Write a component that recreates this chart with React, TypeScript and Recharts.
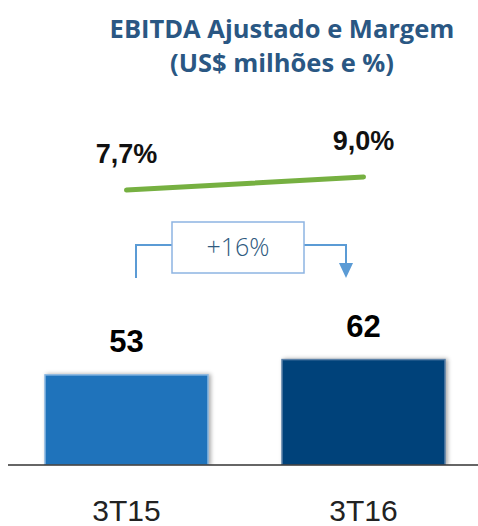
import React from "react";
import { Bar, Cell, ComposedChart, LabelList, Line, XAxis, YAxis } from "recharts";

const categories = ["3T15", "3T16"];
const ebitda = [53, 62];
const margem = [7.7, 9.0];
const growthLabel = "+16%";
const titleLines = ["EBITDA Ajustado e Margem", "(US$ milhões e %)"];

const barColors = ["#1f73bb", "#00427a"];
const barEdges = ["#8ab8e2", "#5a80a8"];

const data = categories.map((cat, i) => ({ cat, ebitda: ebitda[i], margem: margem[i] }));

const FONT = "'Liberation Sans', Arial, sans-serif";

function ShadowBar(props: any) {
    const { x, y, width, height, index } = props;
    return (
        <rect
            x={x}
            y={y}
            width={width}
            height={height}
            fill={barColors[index]}
            stroke={barEdges[index]}
            strokeWidth={1.5}
            style={{ filter: "drop-shadow(2px 0px 2px rgba(0,0,0,0.35))" }}
        />
    );
}

function GrowthArrow() {
    const blue = "#5b9bd5";
    return (
        <svg width={478} height={526} style={{ position: "absolute", left: 0, top: 0 }}>
            <polyline points="136,278 136,245 172,245" fill="none" stroke={blue} strokeWidth={2} />
            <polyline points="304,245 346,245 346,265" fill="none" stroke={blue} strokeWidth={2} />
            <polygon points="339,263 353,263 346,278" fill={blue} />
            <rect x={172} y={222} width={132} height={51} fill="#fff" stroke="#8db4e2" strokeWidth={1.5} />
            <text
                x={238}
                y={256}
                textAnchor="middle"
                fontFamily="'Open Sans', sans-serif"
                fontWeight={300}
                fontSize={25}
                fill="#2f5a80"
            >
                {growthLabel}
            </text>
        </svg>
    );
}

export default function App() {
    return (
        <div style={{ position: "absolute", left: 0, top: 0, width: 478, height: 526, overflow: "hidden", background: "#fff" }}>
            <div
                style={{
                    position: "absolute",
                    left: 82,
                    top: 11,
                    width: 400,
                    textAlign: "center",
                    fontFamily: "'Open Sans', sans-serif",
                    fontWeight: 700,
                    fontSize: 25.5,
                    lineHeight: "34px",
                    color: "#2a5783",
                }}
            >
                {titleLines.map((t) => (
                    <div key={t}>{t}</div>
                ))}
            </div>
            <div style={{ position: "absolute", left: 0, top: 0 }}>
                <ComposedChart width={482} height={526} data={data} margin={{ top: 45, right: 0, bottom: 0, left: 8 }}>
                    <XAxis
                        dataKey="cat"
                        height={61}
                        tickLine={false}
                        tickSize={0}
                        tickMargin={35}
                        axisLine={{ stroke: "#333", strokeWidth: 1.5 }}
                        tick={{ fill: "#222", fontSize: 30, fontFamily: FONT }}
                    />
                    <YAxis yAxisId="bar" hide domain={[0, 247]} allowDataOverflow />
                    <YAxis yAxisId="line" hide domain={[-19.8, 22.2]} allowDataOverflow />
                    <Bar yAxisId="bar" dataKey="ebitda" barSize={163} shape={ShadowBar} isAnimationActive={false}>
                        {data.map((d, i) => (
                            <Cell key={d.cat} fill={barColors[i]} />
                        ))}
                        <LabelList
                            dataKey="ebitda"
                            position="top"
                            offset={23}
                            fill="#000"
                            fontSize={31}
                            fontWeight="bold"
                            fontFamily={FONT}
                        />
                    </Bar>
                    <Line
                        yAxisId="line"
                        dataKey="margem"
                        stroke="#76b041"
                        strokeWidth={5}
                        strokeLinecap="round"
                        dot={false}
                        isAnimationActive={false}
                    >
                        <LabelList
                            dataKey="margem"
                            position="top"
                            offset={27}
                            fill="#111"
                            fontSize={27}
                            fontWeight="bold"
                            fontFamily={FONT}
                            formatter={(v: any) => `${Number(v).toFixed(1).replace(".", ",")}%`}
                        />
                    </Line>
                </ComposedChart>
            </div>
            <GrowthArrow />
        </div>
    );
}
